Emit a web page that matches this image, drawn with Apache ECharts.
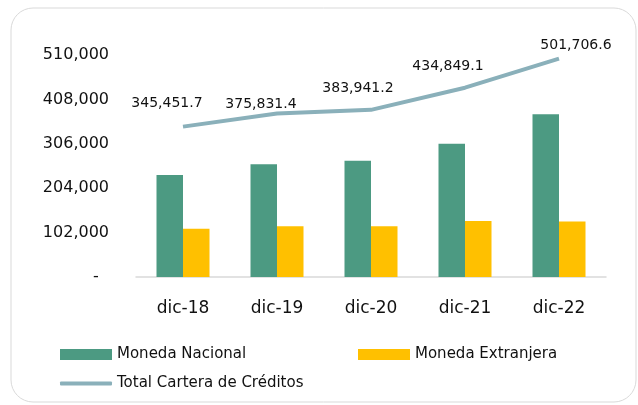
<!DOCTYPE html>
<html>
<head>
<meta charset="utf-8">
<script src="https://cdn.jsdelivr.net/npm/echarts@6/dist/echarts.min.js"></script>
<style>
  html, body { margin: 0; padding: 0; background: #fff; }
  #chart { width: 638px; height: 405px; }
</style>
</head>
<body>
<div id="chart"></div>
<script>
// datos del grafico
var categories = ['dic-18', 'dic-19', 'dic-20', 'dic-21', 'dic-22'];
var monedaNacional = [234500, 259000, 267300, 306300, 374000];
var monedaExtranjera = [110950, 116830, 116640, 128550, 127710];
var totalCartera = [345451.7, 375831.4, 383941.2, 434849.1, 501706.6];
var yMin = 0, yMax = 510000, yStep = 102000;

// desplazamiento de las etiquetas de la linea (como en el original)
var labelOffsets = [[-16, -11], [-16, 3], [-13, -9], [-17, -9], [17, -1]];

var font = 'DejaVu Sans';
var chart = echarts.init(document.getElementById('chart'));

function fmt(v, dec) {
    return v.toLocaleString('en-US', { minimumFractionDigits: dec, maximumFractionDigits: dec });
}

var legendText = { fontSize: 15, color: '#111', fontFamily: font };

var option = {
    animation: false,
    textStyle: { fontFamily: font },
    graphic: [{
        type: 'rect',
        shape: { x: 11, y: 8, width: 625, height: 394, r: 22 },
        style: { fill: '#fff', stroke: '#d9d9d9', lineWidth: 1 },
        z: -10
    }],
    grid: { left: 136, right: 32, top: 55, bottom: 128 },
    legend: [
        {
            data: ['Moneda Nacional'], left: 60, top: 347, padding: 0,
            icon: 'rect', itemWidth: 52, itemHeight: 11,
            textStyle: legendText
        },
        {
            data: ['Moneda Extranjera'], left: 358, top: 347, padding: 0,
            icon: 'rect', itemWidth: 52, itemHeight: 11,
            textStyle: legendText
        },
        {
            data: ['Total Cartera de Créditos'], left: 60, top: 376, padding: 0,
            icon: 'roundRect', itemWidth: 52, itemHeight: 4,
            textStyle: legendText
        }
    ],
    xAxis: {
        type: 'category',
        data: categories,
        axisTick: { show: false },
        axisLine: { lineStyle: { color: '#d9d9d9', width: 1.5 } },
        axisLabel: { fontSize: 17, color: '#111', margin: 23, fontFamily: font }
    },
    yAxis: {
        type: 'value',
        min: yMin, max: yMax, interval: yStep,
        axisLine: { show: false },
        axisTick: { show: false },
        splitLine: { show: false },
        axisLabel: {
            fontSize: 16, color: '#111', margin: 27, fontFamily: font,
            formatter: function (v) { return v === 0 ? '-  ' : fmt(v, 0); }
        }
    },
    series: [
        {
            name: 'Moneda Nacional',
            type: 'bar',
            data: monedaNacional,
            barWidth: 26.5,
            barGap: '0%',
            itemStyle: { color: '#4c9a82' }
        },
        {
            name: 'Moneda Extranjera',
            type: 'bar',
            data: monedaExtranjera,
            barWidth: 26.5,
            itemStyle: { color: '#ffc000' }
        },
        {
            name: 'Total Cartera de Créditos',
            type: 'line',
            data: totalCartera.map(function (v, i) {
                return { value: v, label: { offset: labelOffsets[i] } };
            }),
            showSymbol: true,
            symbol: 'circle',
            symbolSize: 0.1,
            lineStyle: { color: '#8ab0ba', width: 4 },
            itemStyle: { color: '#8ab0ba' },
            label: {
                show: true,
                position: 'top',
                fontSize: 14,
                color: '#111',
                fontFamily: font,
                formatter: function (p) { return fmt(p.value, 1); }
            }
        }
    ]
};
chart.setOption(option);
</script>
</body>
</html>
